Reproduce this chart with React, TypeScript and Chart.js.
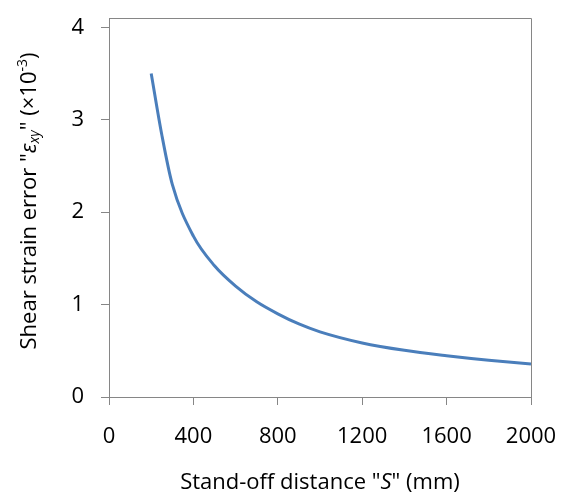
import React, { useEffect, useRef } from "react";
import { Chart, registerables } from "chart.js";

Chart.register(...registerables);

const xValues = [200, 250, 300, 400, 500, 600, 700, 800, 900, 1000, 1200, 1400, 1600, 1800, 2000];
const yValues = [3.5, 2.84, 2.3, 1.74, 1.42, 1.2, 1.03, 0.9, 0.79, 0.705, 0.585, 0.505, 0.447, 0.398, 0.357];
const xTicks = [0, 400, 800, 1200, 1600, 2000];
const yTicks = [0, 1, 2, 3, 4];

const FONT = "'Open Sans', sans-serif";
const AXIS = "#868686";
const FS = 22;

type Seg = { t: string; italic?: boolean; shift?: number; small?: boolean };

function drawRich(ctx: CanvasRenderingContext2D, segs: Seg[], size: number) {
  const fontOf = (s: Seg) => `${s.italic ? "italic " : ""}${s.small ? Math.round(size * 0.65) : size}px ${FONT}`;
  let total = 0;
  for (const s of segs) {
    ctx.font = fontOf(s);
    total += ctx.measureText(s.t).width;
  }
  let x = -total / 2;
  ctx.textBaseline = "middle";
  ctx.textAlign = "left";
  for (const s of segs) {
    ctx.font = fontOf(s);
    ctx.fillText(s.t, x, s.shift || 0);
    x += ctx.measureText(s.t).width;
  }
}

const titlePlugin = {
  id: "titles",
  beforeDatasetsDraw(chart: any) {
    const { ctx, chartArea } = chart;
    ctx.save();
    ctx.strokeStyle = AXIS;
    ctx.lineWidth = 1;
    ctx.beginPath();
    ctx.moveTo(Math.round(chartArea.left) + 0.5, Math.round(chartArea.top) + 0.5);
    ctx.lineTo(Math.round(chartArea.right) + 0.5, Math.round(chartArea.top) + 0.5);
    ctx.lineTo(Math.round(chartArea.right) + 0.5, Math.round(chartArea.bottom) + 0.5);
    ctx.stroke();
    ctx.restore();
  },
  afterDraw(chart: any) {
    const { ctx, chartArea } = chart;
    ctx.save();
    ctx.fillStyle = "#000";
    ctx.save();
    ctx.translate((chartArea.left + chartArea.right) / 2, 475);
    drawRich(ctx, [{ t: 'Stand-off distance "' }, { t: "S", italic: true }, { t: '" (mm)' }], FS);
    ctx.restore();
    ctx.save();
    ctx.translate(22, 193);
    ctx.rotate(-Math.PI / 2);
    drawRich(
      ctx,
      [
        { t: 'Shear strain error "' },
        { t: "ε", italic: true },
        { t: "xy", italic: true, small: true, shift: 5 },
        { t: '" (×10' },
        { t: "-3", small: true, shift: -7 },
        { t: ")" },
      ],
      FS
    );
    ctx.restore();
    ctx.restore();
  },
};

export default function App() {
  const ref = useRef<HTMLCanvasElement>(null);
  useEffect(() => {
    if (!ref.current) return;
    const chart = new Chart(ref.current, {
      type: "line",
      data: {
        datasets: [
          {
            data: xValues.map((x, i) => ({ x, y: yValues[i] })),
            borderColor: "#4A7EBB",
            borderWidth: 3,
            pointRadius: 0,
            cubicInterpolationMode: "monotone",
            fill: false,
          },
        ],
      },
      options: {
        animation: false,
        responsive: false,
        layout: { padding: { left: 0, right: 33, top: 10, bottom: 0 } },
        plugins: { legend: { display: false }, tooltip: { enabled: false } },
        scales: {
          x: {
            type: "linear",
            min: 0,
            max: 2000,
            afterFit: (s: any) => {
              s.height = 98;
              s.paddingLeft = 0;
              s.paddingRight = 0;
              s.paddingTop = 0;
              s.paddingBottom = 0;
            },
            afterBuildTicks: (s: any) => {
              s.ticks = xTicks.map((v) => ({ value: v }));
            },
            border: { color: AXIS, width: 1 },
            grid: { drawOnChartArea: false, tickLength: 8, color: AXIS },
            ticks: {
              color: "#000",
              font: { family: FONT, size: FS },
              padding: 19,
              maxRotation: 0,
              callback: (v: any) => String(v),
            },
          },
          y: {
            type: "linear",
            min: 0,
            max: 4.1,
            afterFit: (s: any) => {
              s.width = 101;
              s.paddingLeft = 0;
              s.paddingRight = 0;
              s.paddingTop = 0;
              s.paddingBottom = 0;
            },
            afterBuildTicks: (s: any) => {
              s.ticks = yTicks.map((v) => ({ value: v }));
            },
            border: { color: AXIS, width: 1 },
            grid: { drawOnChartArea: false, tickLength: 8, color: AXIS },
            ticks: {
              color: "#000",
              font: { family: FONT, size: FS },
              padding: 17,
              callback: (v: any) => String(v),
            },
          },
        },
      } as any,
      plugins: [titlePlugin],
    });
    return () => chart.destroy();
  }, []);
  return <canvas ref={ref} width={556} height={487} style={{ display: "block" }} />;
}
